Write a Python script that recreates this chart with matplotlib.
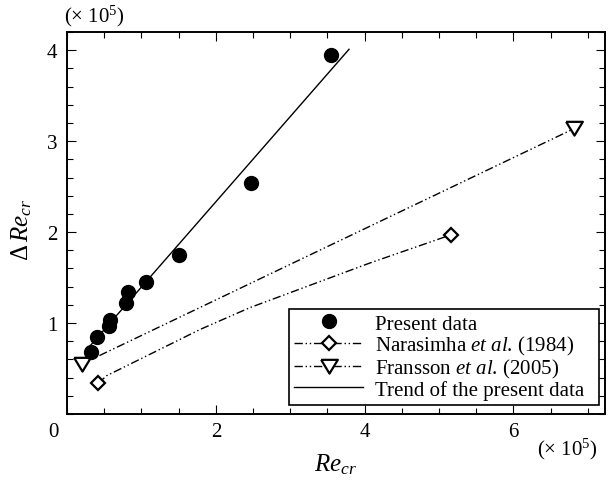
import matplotlib
matplotlib.use("Agg")
import matplotlib.pyplot as plt
from matplotlib.ticker import MultipleLocator

plt.rcParams['font.family'] = ['Liberation Serif', 'DejaVu Serif']
plt.rcParams['mathtext.fontset'] = 'custom'
plt.rcParams['mathtext.rm'] = 'Liberation Serif'
plt.rcParams['mathtext.it'] = 'Liberation Serif:italic'
plt.rcParams['mathtext.bf'] = 'Liberation Serif:bold'

# Data (units of 1e5)
present_x = [0.32, 0.40, 0.565, 0.58, 0.79, 0.82, 1.06, 1.50, 2.47, 3.55]
present_y = [0.68, 0.85, 0.97, 1.03, 1.22, 1.34, 1.455, 1.75, 2.54, 3.95]

narasimha_x = [0.42, 0.53, 1.79, 2.46, 4.07, 5.16]
narasimha_y = [0.336, 0.42, 0.93, 1.17, 1.66, 1.97]
narasimha_mx = [0.42, 5.16]
narasimha_my = [0.336, 1.97]

fransson_x = [0.2, 6.82]
fransson_y = [0.55, 3.14]

trend_x = [0.30, 3.79]
trend_y = [0.74, 4.01]

W, H = 608, 481
fig = plt.figure(figsize=(W / 100, H / 100), dpi=100)
ax = fig.add_axes([67 / W, 1 - 415 / H, (605 - 67) / W, (415 - 33) / H])

dash = (6, 2, 1, 2, 1, 2)
ax.plot(trend_x, trend_y, color='black', lw=1.0, zorder=2)
ax.plot(narasimha_x, narasimha_y, color='black', lw=1.0, dashes=dash, zorder=2)
ax.plot(fransson_x, fransson_y, color='black', lw=1.0, dashes=dash, zorder=2)

tri = [(-1, 0.8), (1, 0.8), (0, -0.85), (-1, 0.8)]
ax.plot(narasimha_mx, narasimha_my, linestyle='none', marker='D', ms=7.5,
        mfc='white', mec='black', mew=1.6, zorder=3)
ax.plot(fransson_x, fransson_y, linestyle='none', marker=tri, ms=12,
        mfc='white', mec='black', mew=1.6, zorder=3)
ax.plot(present_x, present_y, linestyle='none', marker='o', ms=10,
        mfc='black', mec='black', zorder=4)

# legend handles
h1, = ax.plot([], [], linestyle='none', marker='o', ms=10, mfc='black', mec='black')
h2, = ax.plot([], [], color='black', lw=1.0, dashes=dash, marker='D', ms=7.5,
              mfc='white', mec='black', mew=1.6)
h3, = ax.plot([], [], color='black', lw=1.0, dashes=dash, marker=tri, ms=12,
              mfc='white', mec='black', mew=1.6)
h4, = ax.plot([], [], color='black', lw=1.0)
leg = ax.legend([h1, h2, h3, h4],
                ['Present data', r'Narasimha $\mathit{et\ al}$. (1984)',
                 r'Fransson $\mathit{et\ al}$. (2005)', 'Trend of the present data'],
                loc='lower left',
                bbox_to_anchor=((289 - 67) / 538, 0.024, (599 - 289) / 538, 0.2),
                mode='expand', borderaxespad=0,
                fontsize=15, numpoints=1, handlelength=3.3, handletextpad=0.6,
                labelspacing=0.0, borderpad=0.25, fancybox=False, framealpha=1,
                edgecolor='black')
leg.get_frame().set_linewidth(1.2)

ax.set_xlim(0, 7.23)
ax.set_ylim(0, 4.2)
ax.xaxis.set_major_locator(MultipleLocator(2))
ax.xaxis.set_minor_locator(MultipleLocator(0.5))
ax.yaxis.set_major_locator(MultipleLocator(1))
ax.yaxis.set_minor_locator(MultipleLocator(0.2))
ax.tick_params(which='both', direction='in', top=True, right=True, width=0.8,
               labelsize=15)
ax.tick_params(which='major', length=6.5)
ax.tick_params(which='minor', length=4)
ax.tick_params(axis='x', pad=6)
ax.tick_params(axis='y', pad=7)
for s in ax.spines.values():
    s.set_linewidth(1.4)

ax.set_xticks([2, 4, 6])
ax.set_xticklabels(['2', '4', '6'])
ax.set_yticks([1, 2, 3, 4])
ax.set_yticklabels(['1', '2', '3', '4'])

def px(x, y):
    return x / W, 1 - y / H

fig.text(*px(53, 433), '0', fontsize=15, ha='center', va='center')
fig.text(*px(94, 16), r'(× 10$^5$)', fontsize=15, ha='center', va='center')
fig.text(*px(567, 449), r'(× 10$^5$)', fontsize=15, ha='center', va='center')
fig.text(*px(336, 465), r'$Re_{cr}$', fontsize=18, ha='center', va='center')
fig.text(*px(22, 230), r'$\mathit{Δ}\,Re_{cr}$', fontsize=18, ha='center',
         va='center', rotation=90)

fig.savefig('out.png', dpi=100)
